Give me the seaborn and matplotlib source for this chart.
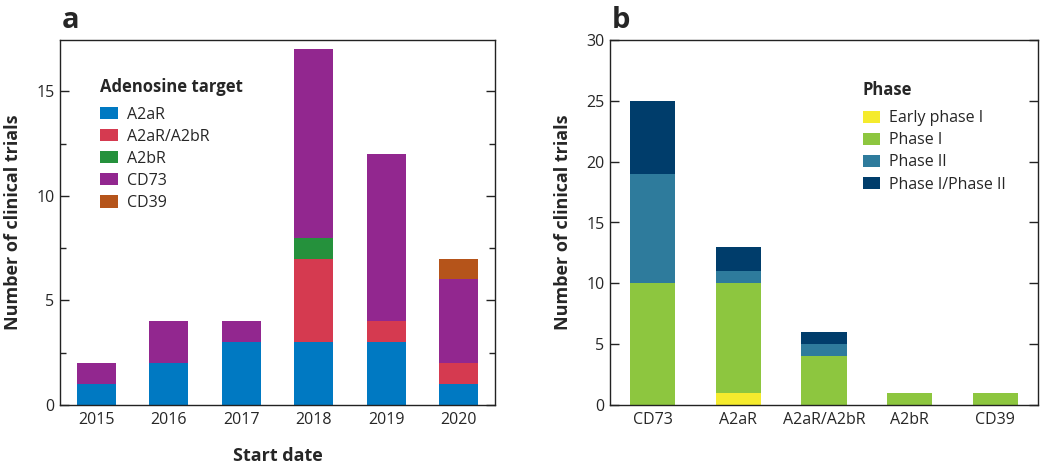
import numpy as np
import pandas as pd
import matplotlib
matplotlib.use("Agg")
import matplotlib.pyplot as plt
from matplotlib.patches import Patch
from matplotlib.ticker import MultipleLocator
import seaborn as sns

# ---- data: panel a ----
years = ["2015", "2016", "2017", "2018", "2019", "2020"]
targets = ["A2aR", "A2aR/A2bR", "A2bR", "CD73", "CD39"]
a_A2aR = [1, 2, 3, 3, 3, 1]
a_A2aR_A2bR = [0, 0, 0, 4, 1, 1]
a_A2bR = [0, 0, 0, 1, 0, 0]
a_CD73 = [1, 2, 1, 9, 8, 4]
a_CD39 = [0, 0, 0, 0, 0, 1]
target_colors = ["#0079C2", "#D53A50", "#25913C", "#92278F", "#B5541A"]

# ---- data: panel b ----
b_targets = ["CD73", "A2aR", "A2aR/A2bR", "A2bR", "CD39"]
phases = ["Early phase I", "Phase I", "Phase II", "Phase I/Phase II"]
b_early = [0, 1, 0, 0, 0]
b_phase1 = [10, 9, 4, 1, 1]
b_phase2 = [9, 1, 1, 0, 0]
b_phase12 = [6, 2, 1, 0, 0]
phase_colors = ["#F5EB2D", "#8DC63F", "#2E7B9C", "#003D6B"]

sns.set_theme(style="white")
plt.rcParams["font.family"] = ["Open Sans", "DejaVu Sans"]

fig = plt.figure(figsize=(10.5, 4.65), dpi=100)
ax_a = fig.add_axes([60 / 1050, 60 / 465, 435 / 1050, 365 / 465])
ax_b = fig.add_axes([610 / 1050, 60 / 465, 428 / 1050, 365 / 465])


def stacked(ax, cats, series, colors, width):
    bottom = np.zeros(len(cats))
    for vals, col in zip(series, colors):
        vals = np.asarray(vals, dtype=float)
        sns.barplot(x=cats, y=vals, bottom=bottom, color=col, saturation=1,
                    width=width, errorbar=None, ax=ax, order=cats,
                    linewidth=0)
        bottom = bottom + vals


stacked(ax_a, years, [a_A2aR, a_A2aR_A2bR, a_A2bR, a_CD73, a_CD39],
        target_colors, 0.54)
stacked(ax_b, b_targets, [b_early, b_phase1, b_phase2, b_phase12],
        phase_colors, 0.53)

fs = 11.5
for ax in (ax_a, ax_b):
    for sp in ax.spines.values():
        sp.set_visible(True)
        sp.set_color("#222222")
        sp.set_linewidth(1.0)
    ax.tick_params(axis="y", which="major", direction="in", length=6.5,
                   width=1.0, left=True, right=True, labelsize=fs,
                   color="#222222", pad=4)
    ax.tick_params(axis="x", which="both", bottom=False, top=False,
                   length=0, labelsize=fs, pad=5)
    ax.set_xlim(-0.5, len(ax.get_xticks()) - 0.5)

ax_a.set_ylim(0, 17.45)
ax_a.yaxis.set_major_locator(MultipleLocator(5))
ax_a.yaxis.set_minor_locator(MultipleLocator(2.5))
ax_a.tick_params(axis="y", which="minor", direction="in", length=4,
                 width=1.0, left=True, right=True, color="#222222")

ax_b.set_ylim(0, 30)
ax_b.yaxis.set_major_locator(MultipleLocator(5))

ax_a.set_xlabel("Start date", fontsize=13, fontweight="bold", labelpad=14)
ax_a.set_ylabel("Number of clinical trials", fontsize=13, fontweight="bold",
                labelpad=10)
ax_b.set_xlabel("")
ax_b.set_ylabel("Number of clinical trials", fontsize=13, fontweight="bold",
                labelpad=10)

fig.text(62 / 1050, 1 - 28 / 465, "a", fontsize=21, fontweight="bold",
         ha="left", va="baseline")
fig.text(612 / 1050, 1 - 28 / 465, "b", fontsize=21, fontweight="bold",
         ha="left", va="baseline")

leg_kw = dict(frameon=False, fontsize=fs, handlelength=1.1, handleheight=0.8,
              handletextpad=0.55, labelspacing=0.38, borderaxespad=0,
              borderpad=0, alignment="left", loc="upper left")

h_a = [Patch(facecolor=c, edgecolor="none") for c in target_colors]
leg_a = ax_a.legend(h_a, targets, bbox_to_anchor=(0.093, 0.897), **leg_kw)
leg_a.set_title("Adenosine target", prop={"size": fs + 0.5, "weight": "bold"})
leg_a._legend_box.sep = 8

h_b = [Patch(facecolor=c, edgecolor="none") for c in phase_colors]
leg_b = ax_b.legend(h_b, phases, bbox_to_anchor=(0.59, 0.887), **leg_kw)
leg_b.set_title("Phase", prop={"size": fs + 0.5, "weight": "bold"})
leg_b._legend_box.sep = 8

fig.savefig("out.png", dpi=100)
